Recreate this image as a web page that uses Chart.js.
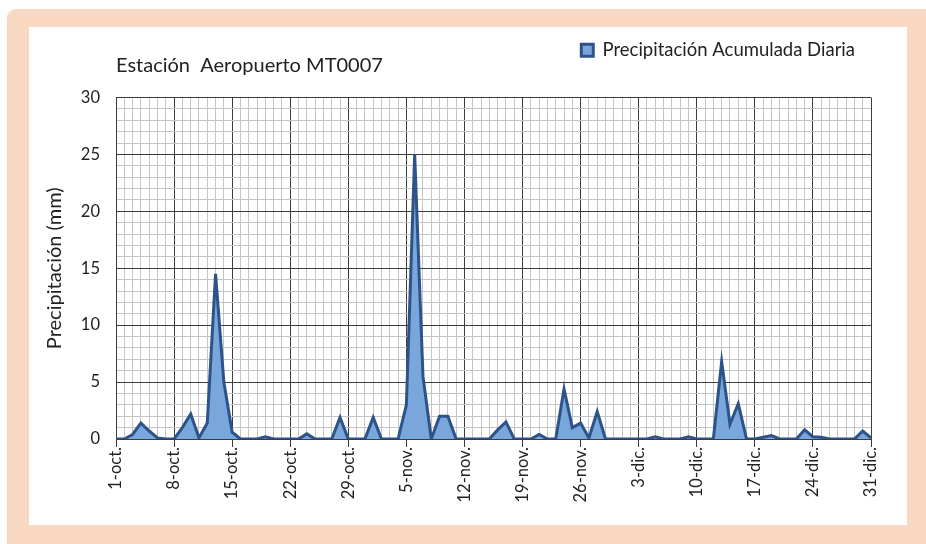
<!DOCTYPE html>
<html>
<head>
<meta charset="utf-8">
<script src="https://cdn.jsdelivr.net/npm/chart.js@4/dist/chart.umd.min.js"></script>
<style>
  body { margin: 0; background: #fff; width: 926px; height: 544px; overflow: hidden; position: relative; }
  #frame { position: absolute; left: 7px; top: 9px; width: 940px; height: 560px; background: #f9d8c3; border-radius: 9px; }
  #panel { position: absolute; left: 29px; top: 27px; width: 878px; height: 498px; background: #fff; }
</style>
</head>
<body>
<div id="frame"></div>
<div id="panel"><canvas id="chart" width="878" height="498"></canvas></div>
<script>
// categories: daily dates 1-oct. .. 31-dic.
const months    = ["oct.", "nov.", "dic."]
const monthDays = [31, 30, 31]
const days = []
months.forEach((m, k) => {
  for (let d = 1; d <= monthDays[k]; d++) days.push(d + "-" + m)
})

// daily accumulated precipitation (mm)
const precip = [
  0, 0, 0.4, 1.4, 0.7, 0.1, 0, 0, 1.0, 2.2,
  0.1, 1.4, 14.5, 5.0, 0.6, 0, 0, 0, 0.2, 0,
  0, 0, 0, 0.45, 0, 0, 0, 1.9, 0, 0,
  0, 1.9, 0, 0, 0, 3.0, 25, 5.5, 0, 2.0,
  2.0, 0, 0, 0, 0, 0, 0.8, 1.5, 0, 0,
  0, 0.4, 0, 0, 4.4, 1.0, 1.4, 0.1, 2.4, 0,
  0, 0, 0, 0, 0, 0.2, 0, 0, 0, 0.2,
  0, 0, 0, 6.8, 1.3, 3.1, 0, 0, 0.15, 0.3,
  0, 0, 0, 0.8, 0.2, 0.15, 0, 0, 0, 0,
  0.7, 0.1
]

const yTicks = [0, 5, 10, 15, 20, 25, 30]

const major = "#3c3c3c"
const minor = "#c4c4c4"
const font  = "Lato"

// nudge the legend a little left of the plot's right edge
const legendShift = {
  id: "legendShift",
  afterLayout(chart) {
    if (chart.legend) {
      chart.legend.left -= 16
      chart.legend.right -= 16
    }
  }
}

new Chart(document.getElementById("chart"), {
  type: "line",
  data: {
    labels: days,
    datasets: [{
      label: "Precipitación Acumulada Diaria",
      data: precip,
      borderColor: "#2d5388",
      backgroundColor: "#79a6db",
      borderWidth: 3,
      fill: "origin",
      tension: 0,
      pointRadius: 0
    }]
  },
  plugins: [legendShift],
  options: {
    responsive: false,
    animation: false,
    layout: { padding: { top: 14, right: 36, left: 0, bottom: 0 } },
    plugins: {
      legend: {
        position: "top",
        align: "end",
        weight: 3000,
        labels: {
          font: { family: font, size: 18.5 },
          color: "#222",
          boxWidth: 12,
          boxHeight: 12,
          padding: 0,
          useBorderRadius: false
        }
      },
      title: {
        display: true,
        text: "Estación  Aeropuerto MT0007",
        align: "start",
        fullSize: false,
        color: "#222",
        font: { family: font, size: 20, weight: "normal" },
        padding: { top: -16, bottom: 20 }
      },
      tooltip: { enabled: false }
    },
    scales: {
      x: {
        afterFit: (s) => { s.height = 86 },
        grid: {
          color: (c) => c.index % 7 === 0 ? major : minor,
          tickColor: (c) => c.index % 7 === 0 ? major : "rgba(0,0,0,0)",
          tickLength: 8,
          lineWidth: 1
        },
        border: { color: major },
        ticks: {
          autoSkip: false,
          minRotation: 90,
          maxRotation: 90,
          padding: 0,
          color: "#222",
          font: { family: font, size: 16.5 },
          callback: (v, i) => i % 7 === 0 ? days[i] : ""
        }
      },
      y: {
        min: 0,
        max: 30,
        afterFit: (s) => { s.width = 87 },
        grid: {
          color: (c) => yTicks.includes(c.tick.value) ? major : minor,
          drawTicks: false,
          lineWidth: 1
        },
        border: { color: major },
        ticks: {
          autoSkip: false,
          stepSize: 1,
          padding: 16,
          color: "#222",
          font: { family: font, size: 16.5 },
          callback: (v) => yTicks.includes(v) ? v : ""
        },
        title: {
          display: true,
          text: "Precipitación (mm)",
          color: "#222",
          font: { family: font, size: 20 },
          padding: { top: 14, bottom: 0 }
        }
      }
    }
  }
})
</script>
</body>
</html>
